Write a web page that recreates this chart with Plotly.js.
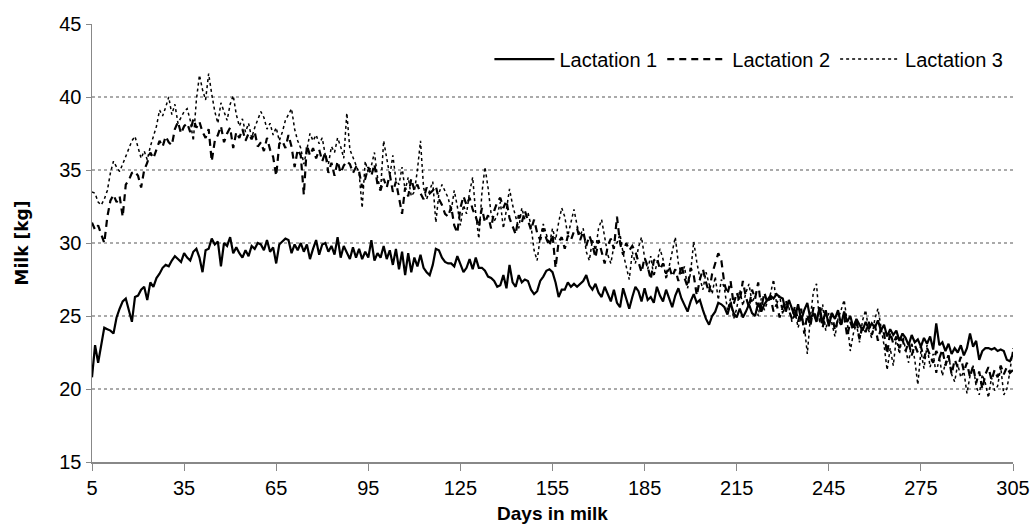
<!DOCTYPE html>
<html>
<head>
<meta charset="utf-8">
<script src="https://cdn.plot.ly/plotly-3.0.1.min.js"></script>
<style>html,body{margin:0;padding:0;background:#fff;}#chart{width:1033px;height:527px;}</style>
</head>
<body>
<div id="chart"></div>
<script>
const firstDay = 5;
const lactation1 = [
20.8,23.0,21.8,23.0,24.2,24.1,24.0,23.8,24.9,25.5,26.0,26.2,25.4,24.6,26.3,26.4,26.8,27.0,26.1,27.3,27.0,27.6,27.9,28.3,28.5,28.4,28.8,29.1,28.9,28.7,
29.3,29.0,28.8,29.4,29.6,29.0,28.0,29.5,29.6,30.3,29.9,30.1,28.4,30.0,29.8,30.4,29.3,29.7,29.3,29.0,29.5,29.1,29.8,29.6,30.0,29.9,29.5,30.2,29.4,29.7,
28.6,29.9,30.1,30.3,30.2,29.3,29.9,29.5,30.0,29.4,29.9,28.9,29.6,30.2,29.2,29.9,30.0,29.4,29.8,29.2,30.4,29.0,29.8,29.3,28.9,29.7,29.0,29.6,28.9,29.4,
29.0,30.2,28.8,29.3,29.0,29.8,28.9,29.5,28.5,29.6,28.2,29.4,27.8,29.3,28.0,29.0,28.4,29.2,28.3,28.0,27.8,28.5,29.6,29.5,29.0,28.7,28.6,28.6,28.4,29.1,
28.5,28.0,28.3,28.9,28.2,29.0,28.3,28.3,28.1,27.7,27.6,27.4,27.0,27.1,27.8,26.9,28.5,27.3,27.0,27.8,27.3,27.5,27.4,26.8,26.5,26.7,27.4,27.7,28.1,28.2,
28.0,27.3,26.3,26.8,26.8,27.3,27.0,27.2,27.0,27.2,27.4,27.8,27.1,26.8,27.2,26.6,26.3,27.0,26.5,26.0,26.8,25.9,25.6,26.9,26.2,25.5,26.3,27.0,26.7,26.0,
26.9,26.1,26.3,25.9,27.0,26.4,26.0,26.8,26.2,25.6,26.4,26.9,26.2,25.7,25.3,26.0,26.5,25.9,26.1,25.4,24.8,24.4,25.0,25.3,25.9,25.8,25.6,25.1,25.9,25.2,
24.9,25.5,24.9,25.3,25.8,25.2,25.0,25.9,25.3,25.8,26.1,26.4,26.2,26.5,26.3,26.2,25.3,26.1,25.5,24.9,25.8,24.7,25.4,25.9,24.8,25.2,24.6,25.6,24.5,25.4,
24.3,25.2,24.8,25.4,24.4,25.3,24.6,25.0,24.2,24.8,24.4,24.0,24.6,24.1,24.5,24.2,24.7,24.0,24.4,23.6,24.1,23.7,24.0,23.3,23.8,23.5,23.0,23.7,23.2,23.4,
22.9,23.5,23.1,23.6,22.7,24.5,23.0,23.2,22.6,23.1,22.4,22.8,22.5,23.0,22.3,22.8,23.8,22.9,23.3,22.0,22.6,22.8,22.8,22.7,22.8,22.6,22.7,22.6,22.0,21.9,
22.4
];
const lactation2 = [
31.4,30.9,31.2,30.6,30.0,31.8,32.9,33.3,32.8,33.2,31.8,34.0,34.3,34.8,34.9,34.6,33.8,35.0,35.5,36.2,35.8,36.4,37.0,36.6,37.3,36.9,36.7,37.8,38.3,37.5,
38.0,38.2,37.6,38.5,37.9,38.3,37.6,37.2,37.8,35.6,37.0,37.4,38.0,36.9,37.5,37.9,36.5,37.6,37.2,37.8,37.0,37.5,37.1,37.6,36.6,36.9,36.3,37.2,36.4,35.9,
34.6,36.8,37.0,36.5,37.4,36.6,35.2,36.4,36.0,33.3,36.7,36.0,36.5,35.8,36.4,35.6,36.2,34.8,35.5,34.6,35.6,34.8,35.3,35.6,35.4,34.8,35.2,34.9,33.8,34.4,
35.2,34.6,35.4,34.0,33.6,34.4,33.8,34.7,33.5,34.2,33.0,32.0,33.8,33.2,34.4,33.6,34.0,33.4,33.0,33.8,33.4,33.6,33.9,33.0,32.6,32.0,31.8,32.5,31.2,30.7,
32.4,33.2,32.6,33.1,32.3,31.8,31.1,32.4,31.4,31.9,31.0,32.2,32.8,33.1,32.4,32.9,31.7,31.2,30.6,31.9,31.4,32.2,31.5,30.9,31.6,30.7,30.2,31.0,30.3,29.8,
30.6,28.3,30.1,30.4,29.6,30.5,30.2,30.8,31.0,30.2,30.8,29.8,30.5,29.9,29.0,30.2,29.4,28.6,29.8,30.3,29.6,31.8,30.0,29.2,30.0,29.5,29.8,29.4,28.7,28.0,
29.0,28.4,27.5,28.8,29.0,28.2,28.6,27.9,28.4,27.7,28.2,27.4,28.5,27.6,27.0,28.3,27.8,26.4,27.5,28.2,27.3,26.6,27.9,28.6,29.3,28.8,27.2,26.5,27.4,25.8,
26.6,26.0,27.4,26.3,25.6,26.8,26.2,27.3,25.5,26.6,25.9,26.3,25.3,25.8,24.9,25.6,26.1,25.4,24.8,25.7,24.6,25.5,23.8,25.1,24.3,25.6,24.7,25.4,24.2,25.3,
24.5,25.2,24.0,24.8,24.4,25.0,23.6,24.6,24.0,24.8,23.4,24.3,23.9,24.6,23.7,24.4,23.3,24.2,23.8,22.4,23.9,23.1,23.6,22.8,23.4,22.6,23.2,22.3,23.0,22.5,
22.9,22.1,22.8,22.3,21.8,22.6,22.1,22.7,21.6,22.3,21.0,22.0,21.5,22.2,21.2,21.8,20.8,21.6,20.4,21.2,20.0,21.0,21.5,20.6,21.3,20.8,21.6,21.0,21.5,21.1,
21.3
];
const lactation3 = [
33.5,33.4,32.8,32.6,33.0,33.6,34.8,35.6,35.2,34.9,35.4,35.9,36.5,37.0,37.3,36.5,35.8,36.3,35.7,36.6,37.4,38.0,39.1,38.7,39.3,40.0,38.8,39.5,38.2,38.6,
39.0,39.2,38.4,37.0,39.8,41.5,40.5,39.8,41.6,40.2,39.0,38.2,39.6,39.0,38.4,39.5,40.1,38.8,38.0,38.5,37.6,38.2,37.2,37.9,38.5,39.0,38.6,37.8,38.2,37.4,
37.9,37.0,37.6,38.4,38.8,39.2,37.8,37.0,36.5,35.4,36.4,37.5,37.0,37.4,36.8,37.2,36.0,35.4,36.6,36.2,37.2,36.6,35.8,38.9,36.4,35.9,35.3,34.8,32.4,35.6,
34.8,35.3,36.2,34.5,33.6,37.0,35.8,34.6,36.0,34.3,34.0,35.2,33.6,34.5,33.2,33.5,35.0,37.0,33.8,33.0,33.6,34.2,31.4,33.4,34.0,33.6,33.1,32.2,33.6,32.5,
31.2,32.6,32.0,33.5,34.5,32.0,30.3,33.4,35.2,33.8,32.0,31.5,31.9,32.8,31.0,32.3,33.7,32.6,31.8,31.0,32.4,31.6,32.1,31.2,29.5,28.8,30.4,31.3,30.6,29.9,
31.0,30.2,31.4,32.4,31.8,30.5,31.4,32.3,31.2,30.5,31.0,29.4,28.8,30.2,29.5,31.0,31.6,30.4,29.2,28.6,29.8,30.0,30.6,29.3,28.5,27.5,29.4,28.6,29.7,30.4,
29.0,28.2,29.1,27.7,28.6,29.6,28.9,27.5,28.4,29.3,30.4,28.6,27.9,28.4,26.9,28.0,30.1,28.7,27.6,26.8,28.0,27.2,26.5,27.7,26.1,27.5,26.9,25.4,26.2,24.8,
25.5,26.8,25.7,26.6,27.2,25.9,26.4,25.0,26.2,25.4,26.0,26.5,27.5,25.8,26.4,25.1,26.0,25.6,24.6,25.3,24.2,25.0,24.4,22.4,24.9,26.7,27.2,24.5,25.8,24.0,
25.2,24.5,23.6,24.8,25.4,26.1,24.6,22.6,23.8,24.5,23.2,24.7,25.4,24.0,23.5,24.8,25.5,24.2,23.0,21.3,22.8,21.6,23.5,22.4,23.8,22.7,21.8,23.2,22.0,20.3,
22.6,21.4,23.0,21.5,22.4,21.0,22.2,20.9,21.8,22.4,21.0,20.5,21.7,20.8,21.2,19.7,20.9,21.6,20.2,19.6,21.0,20.4,19.4,20.8,19.9,20.2,21.5,19.6,20.0,21.2,
22.8
];
const seriesNames = ["Lactation 1", "Lactation 2", "Lactation 3"];
const xTicks = [5, 35, 65, 95, 125, 155, 185, 215, 245, 275, 305];
const yTicks = [15, 20, 25, 30, 35, 40, 45];

function daysFor(arr) { return arr.map((_, i) => firstDay + i); }

const baseFont = 'Liberation Sans, Arial, sans-serif';

const traces = [
  {x: daysFor(lactation1), y: lactation1, name: seriesNames[0], type: 'scatter', mode: 'lines',
   line: {color: '#000', width: 2.2, dash: 'solid'}},
  {x: daysFor(lactation2), y: lactation2, name: seriesNames[1], type: 'scatter', mode: 'lines',
   line: {color: '#000', width: 2.2, dash: '7px,5px'}},
  {x: daysFor(lactation3), y: lactation3, name: seriesNames[2], type: 'scatter', mode: 'lines',
   line: {color: '#000', width: 1.5, dash: 'dot'}}
];

const layout = {
  width: 1033, height: 527,
  margin: {l: 92, r: 20, t: 24, b: 65},
  paper_bgcolor: '#fff', plot_bgcolor: '#fff',
  font: {family: baseFont, size: 19, color: '#000'},
  showlegend: true,
  legend: {orientation: 'h', x: 0.995, xanchor: 'right', y: 0.92, yanchor: 'middle',
           font: {family: baseFont, size: 20}, bgcolor: 'rgba(0,0,0,0)', traceorder: 'normal', itemwidth: 60},
  xaxis: {
    range: [firstDay, 305], tickvals: xTicks, ticktext: xTicks.map(String),
    showgrid: false, zeroline: false, showline: true, linecolor: '#888', linewidth: 1.5,
    ticks: 'outside', ticklen: 7, tickcolor: '#888', tickfont: {family: baseFont, size: 20},
    title: {text: '<b>Days in milk</b>', font: {family: baseFont, size: 19}, standoff: 9}
  },
  yaxis: {
    range: [15, 45], tickvals: yTicks, ticktext: yTicks.map(String),
    showgrid: true, gridcolor: '#aaa', gridwidth: 1.2, griddash: 'dot',
    zeroline: false, showline: true, linecolor: '#888', linewidth: 1.5,
    ticks: 'outside', ticklen: 5, tickcolor: '#888', tickfont: {family: baseFont, size: 20},
    title: {text: '<b>Milk [kg]</b>', font: {family: 'DejaVu Sans, Verdana, sans-serif', size: 17}, standoff: 26}
  }
};

Plotly.newPlot('chart', traces, layout, {displayModeBar: false, staticPlot: true});
</script>
</body>
</html>
